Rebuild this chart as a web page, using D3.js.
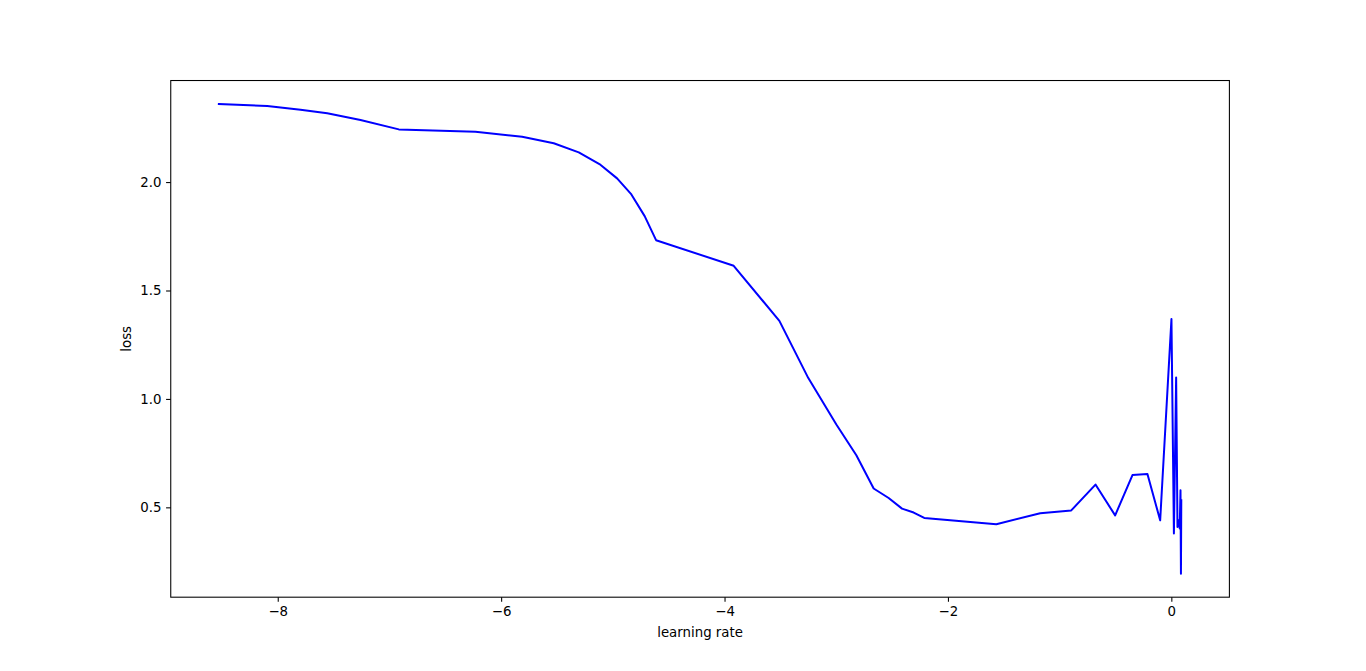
<!DOCTYPE html>
<html>
<head>
<meta charset="utf-8">
<script src="https://cdn.jsdelivr.net/npm/d3@7/dist/d3.min.js"></script>
<style>
html,body{margin:0;padding:0;background:#fff;}
svg{display:block;}
text{font-family:"DejaVu Sans",sans-serif;font-size:13.33px;fill:#000;}
</style>
</head>
<body>
<svg id="chart" width="1366" height="671"></svg>
<script>
const learningRate = [-8.527,-8.094,-7.796,-7.557,-7.259,-6.916,-6.230,-5.812,-5.529,-5.305,-5.120,-4.962,-4.834,-4.715,-4.613,-3.918,-3.509,-3.250,-2.999,-2.820,-2.665,-2.531,-2.411,-2.307,-2.212,-1.567,-1.174,-0.896,-0.679,-0.503,-0.348,-0.214,-0.100,0.001,0.023,0.043,0.055,0.066,0.075,0.082,0.086,0.089];
const loss = [2.360,2.351,2.334,2.317,2.286,2.243,2.232,2.209,2.179,2.137,2.083,2.017,1.943,1.843,1.732,1.614,1.360,1.096,0.882,0.740,0.587,0.543,0.494,0.476,0.451,0.422,0.473,0.486,0.605,0.463,0.649,0.654,0.440,1.368,0.379,1.099,0.409,0.440,0.403,0.579,0.194,0.533];
const xTicks = [-8,-6,-4,-2,0];
const yTicks = [0.5,1.0,1.5,2.0];

const W = 1366, H = 671;
const mLeft = 0.125*W, mRight = 0.9*W, mTop = 0.12*H, mBottom = 0.89*H;
const svg = d3.select("#chart");

function padded(ext){ const d = ext[1]-ext[0]; return [ext[0]-0.05*d, ext[1]+0.05*d]; }
const x = d3.scaleLinear().domain(padded(d3.extent(learningRate))).range([mLeft,mRight]);
const y = d3.scaleLinear().domain(padded(d3.extent(loss))).range([mBottom,mTop]);

const data = learningRate.map((v,i)=>[v,loss[i]]);

svg.append("defs").append("clipPath").attr("id","clip")
  .append("rect").attr("x",mLeft).attr("y",mTop).attr("width",mRight-mLeft).attr("height",mBottom-mTop);

svg.append("path").datum(data)
  .attr("clip-path","url(#clip)")
  .attr("fill","none").attr("stroke","#0000ff").attr("stroke-width",2)
  .attr("stroke-linejoin","round").attr("stroke-linecap","square")
  .attr("d", d3.line().x(d=>x(d[0])).y(d=>y(d[1])));

const fmtX = d => (d<0 ? "\u2212" + Math.abs(d) : String(d));
const xAxis = svg.append("g").attr("transform",`translate(0,${mBottom})`)
  .call(d3.axisBottom(x).tickValues(xTicks).tickFormat(fmtX).tickSizeOuter(0).tickSize(4.67).tickPadding(4.67));
const yAxis = svg.append("g").attr("transform",`translate(${mLeft},0)`)
  .call(d3.axisLeft(y).tickValues(yTicks).tickFormat(d3.format(".1f")).tickSizeOuter(0).tickSize(4.67).tickPadding(4.67));
[xAxis,yAxis].forEach(g=>{
  g.select(".domain").remove();
  g.selectAll(".tick line").attr("stroke","#000").attr("stroke-width",1.07);
  g.selectAll(".tick text").attr("font-family","DejaVu Sans").attr("font-size","13.33px").attr("fill","#000");
});

svg.append("rect").attr("x",mLeft).attr("y",mTop).attr("width",mRight-mLeft).attr("height",mBottom-mTop)
  .attr("fill","none").attr("stroke","#000").attr("stroke-width",1.07);

svg.append("text").attr("x",(mLeft+mRight)/2).attr("y",637).attr("text-anchor","middle").text("learning rate");
svg.append("text").attr("transform",`translate(131,${(mTop+mBottom)/2}) rotate(-90)`).attr("text-anchor","middle").text("loss");
</script>
</body>
</html>
